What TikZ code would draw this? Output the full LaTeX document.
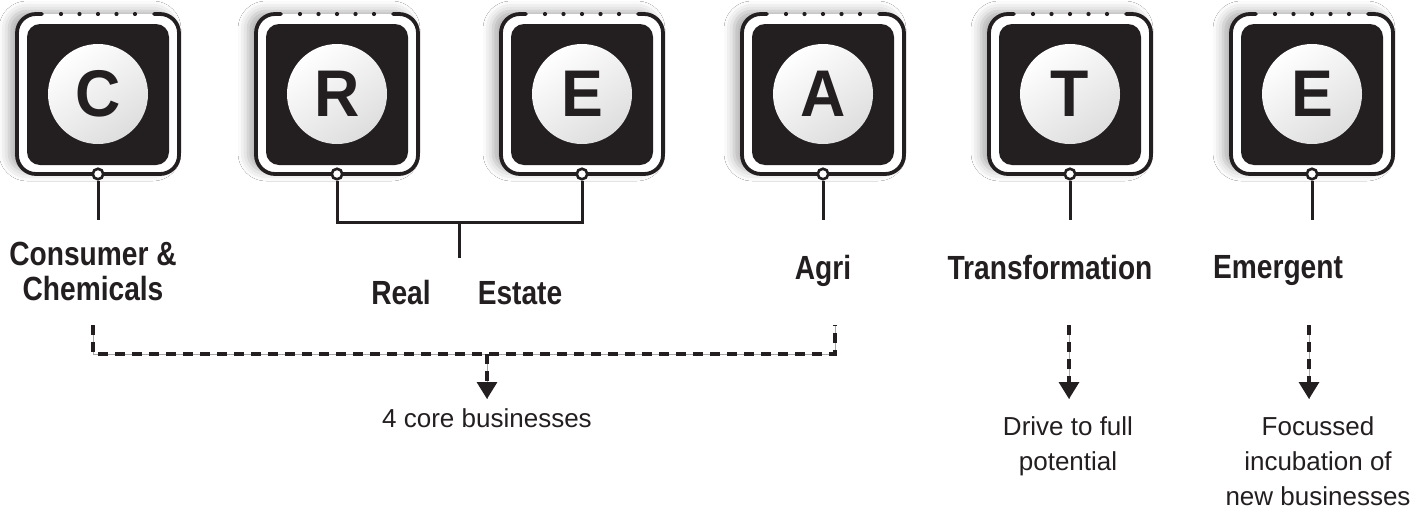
\documentclass[tikz,border=0pt]{standalone}
\usepackage{fontspec}
\setmainfont{Liberation Sans}
\newfontfamily\headfont{Liberation Sans}[FakeStretch=0.84]
\newfontfamily\letterfont{Liberation Sans}[FakeStretch=0.95]
\usetikzlibrary{shadows.blur,arrows.meta}
\definecolor{ink}{HTML}{231F20}
\tikzset{
  frame/.style={draw=ink, line width=3.8pt, line cap=round, rounded corners=19pt},
  tile/.style={fill=ink, rounded corners=13pt},
  glow/.style={fill=white, rounded corners=18pt,
    blur shadow={shadow xshift=-8pt, shadow yshift=3pt, shadow blur radius=10pt, shadow opacity=32}},
  disc/.style={top color=white, bottom color=black!13, shading angle=35},
  letter/.style={font=\letterfont\bfseries\fontsize{66}{66}\selectfont, text=ink, inner sep=0pt},
  ring/.style={circle, draw=ink, fill=white, line width=2.6pt, minimum size=10.5pt, inner sep=0pt},
  stem/.style={draw=ink, line width=3pt, line join=miter},
  label/.style={font=\headfont\bfseries\fontsize{33.5}{35}\selectfont, text=ink, align=center, inner sep=0pt, anchor=base},
  note/.style={font=\fontsize{26}{35}\selectfont, text=ink, align=center, inner sep=0pt, anchor=base},
  dashline/.style={draw=ink, line width=3.2pt, dash pattern=on 10pt off 7pt},
  hair/.style={draw=black!35, line width=0.6pt},
  tipped/.style={-{Triangle[width=20pt,length=17pt]}}
}
\begin{document}
\begin{tikzpicture}[x=1pt,y=-1pt]
\useasboundingbox[fill=white] (0,0) rectangle (1420,509);

\foreach \n/\cx/\L in {c/98/C, r/337/R, e/582/E, a/823/A, t/1070/T, m/1312/E}{
  \path[glow] (\cx-81,14) rectangle (\cx+81,174);
  \fill[tile] (\cx-71,24) rectangle (\cx+71,165);
  \draw[frame] (\cx+56,14) -- (\cx+81,14) -- (\cx+81,174) -- (\cx-81,174) -- (\cx-81,14) -- (\cx-56,14);
  \foreach \d in {-37,-18.5,0,18.5,37}{\fill[ink] (\cx+\d,14) circle (2.1pt);}
  \shade[disc] (\cx,94) circle (50pt);
  \node[letter] (\n-letter) at (\cx,94) {\L};
  \node[ring] (\n-ring) at (\cx,174) {};
}

% stems
\coordinate (c-end) at (98,220);
\coordinate (a-end) at (823,220);
\coordinate (t-end) at (1070,220);
\coordinate (m-end) at (1312,220);
\draw[stem] (c-ring.south) -- (c-end);
\draw[stem] (a-ring.south) -- (a-end);
\draw[stem] (t-ring.south) -- (t-end);
\draw[stem] (m-ring.south) -- (m-end);

% real estate bracket
\coordinate (re-join) at (459.5,222);
\coordinate (re-end) at (459.5,258);
\draw[stem] (r-ring.south) |- (re-join) -| (e-ring.south);
\draw[stem] (re-join) -- (re-end);

% labels (base = last line)
\node[label] (l-c) at (93,300) {Consumer \&\\Chemicals};
\node[label] (l-real) at (401,304) {Real};
\node[label] (l-estate) at (520,304) {Estate};
\node[label] (l-a) at (823,279) {Agri};
\node[label] (l-t) at (1050,279) {Transformation};
\node[label] (l-m) at (1278,278) {Emergent};

% dashed bracket
\coordinate (dl) at (93,325);
\coordinate (dlc) at (93,354);
\coordinate (drc) at (835,354);
\coordinate (dr) at (835,325);
\coordinate (dm) at (487,354);
\coordinate (dm-tip) at (487,399);
\draw[hair] (dl) -- (dlc) -- (drc) -- (dr);
\draw[hair] (dm) -- (dm-tip);
\draw[dashline] (dl) -- (dlc) -- (drc) -- (dr);
\draw[dashline, tipped] (dm) -- (dm-tip);

\coordinate (td) at (1069,325);
\coordinate (td-tip) at (1069,399);
\coordinate (md) at (1309,325);
\coordinate (md-tip) at (1309,399);
\draw[hair] (td) -- (td-tip);
\draw[hair] (md) -- (md-tip);
\draw[dashline, tipped] (td) -- (td-tip);
\draw[dashline, tipped] (md) -- (md-tip);

% notes (base = last line)
\node[note] (n-core) at (487,427) {4 core businesses};
\node[note] (n-drive) at (1068,470) {Drive to full\\potential};
\node[note] (n-focus) at (1318,505) {Focussed\\incubation of\\new businesses};
\end{tikzpicture}
\end{document}
